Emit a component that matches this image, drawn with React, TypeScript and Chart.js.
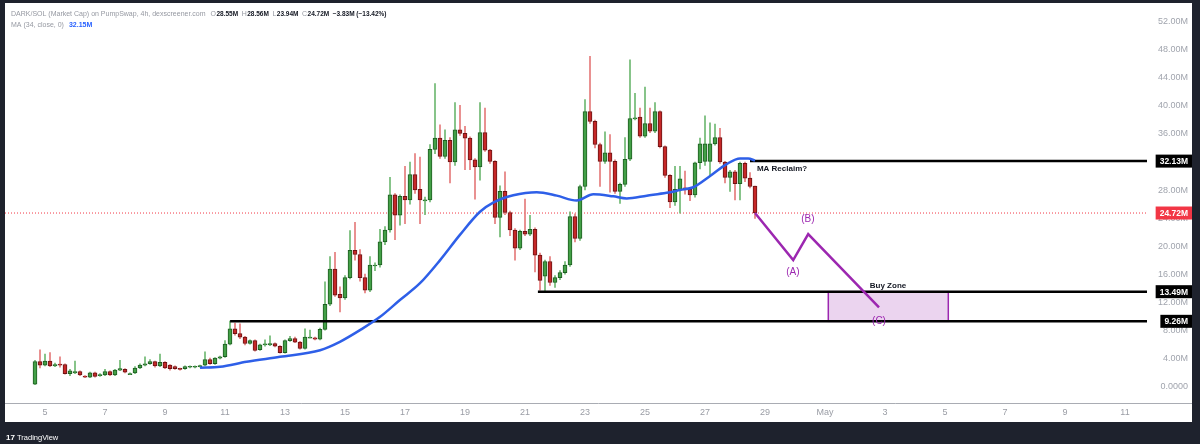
import React, { useEffect, useRef } from "react";
import { Chart, registerables } from "chart.js";

Chart.register(...registerables);

// ---------------- data (values in millions, x in days of April) ----------------
const opens = [
  0.3, 3.5, 3.0, 3.6, 2.9, 3.1, 3.1, 1.8, 1.9, 2.1,
  1.4, 1.3, 1.9, 1.5, 1.6, 2.1, 1.6, 2.3, 2.4, 1.8,
  1.9, 2.6, 3.0, 3.2, 3.5, 2.9, 3.4, 3.0, 2.8, 2.5,
  2.5, 2.7, 2.7, 2.8, 3.0, 3.8, 3.2, 4.0, 4.2, 6.0,
  8.2, 7.5, 7.0, 6.1, 6.5, 5.2, 5.9, 5.9, 6.1, 5.7,
  4.8, 6.5, 6.8, 6.3, 5.4, 7.0, 6.9, 6.7, 8.1, 11.7,
  16.7, 13.1, 12.6, 15.5, 19.4, 18.8, 15.5, 13.7, 17.3, 17.3,
  20.6, 22.3, 27.3, 24.4, 27.1, 26.6, 30.2, 28.1, 26.6, 26.6,
  33.8, 35.4, 32.8, 35.1, 32.0, 36.6, 36.1, 35.4, 32.3, 31.3,
  36.2, 33.7, 32.1, 24.1, 27.8, 24.8, 22.3, 19.7, 22.1, 21.7,
  22.4, 18.7, 15.7, 17.8, 14.8, 15.5, 16.2, 17.3, 24.2, 21.1,
  28.5, 39.2, 37.8, 34.5, 32.1, 33.3, 32.1, 27.8, 28.8, 32.4,
  38.3, 38.4, 35.7, 37.5, 36.4, 39.2, 34.2, 30.1, 26.3, 28.1,
  28.3, 28.1, 27.3, 31.9, 32.1, 32.1, 34.6, 35.5, 32.0, 29.8,
  30.6, 28.9, 31.8, 29.7, 28.55,
];
const closes = [
  3.5, 3.0, 3.6, 2.9, 3.1, 3.0, 1.8, 2.2, 2.1, 1.6,
  1.3, 1.9, 1.4, 1.6, 2.1, 1.6, 2.3, 2.5, 2.0, 1.8,
  2.6, 3.0, 3.2, 3.5, 2.9, 3.4, 2.6, 2.5, 2.5, 2.4,
  2.8, 2.8, 2.8, 2.9, 3.8, 3.2, 4.0, 4.2, 6.0, 8.2,
  7.5, 7.0, 6.1, 6.5, 5.1, 5.9, 6.0, 6.1, 5.7, 4.8,
  6.5, 6.8, 6.3, 5.4, 7.0, 7.0, 6.7, 8.1, 11.7, 16.7,
  13.0, 12.6, 15.5, 19.4, 18.8, 15.5, 13.7, 17.3, 17.3, 20.6,
  22.3, 27.3, 24.4, 27.1, 26.6, 30.2, 28.0, 26.6, 26.6, 33.8,
  35.4, 32.8, 35.1, 32.0, 36.6, 36.1, 35.4, 32.3, 31.3, 36.2,
  33.7, 32.1, 24.1, 27.8, 24.8, 22.3, 19.7, 22.1, 21.7, 22.4,
  18.7, 15.1, 17.8, 14.8, 15.5, 16.2, 17.3, 24.2, 21.1, 28.5,
  39.2, 37.8, 34.5, 32.1, 33.3, 32.1, 27.8, 28.8, 32.4, 38.2,
  38.3, 35.7, 37.5, 36.4, 39.2, 34.2, 30.1, 26.3, 28.1, 29.6,
  28.1, 27.3, 31.9, 34.6, 34.6, 34.6, 35.5, 32.0, 29.8, 30.6,
  28.9, 31.8, 29.7, 28.5, 24.72,
];
const highs = [
  3.7, 5.2, 4.6, 4.8, 3.3, 4.2, 3.2, 2.4, 3.6, 2.2,
  1.5, 2.0, 2.0, 1.8, 2.4, 2.2, 2.4, 3.7, 2.5, 1.9,
  2.8, 3.2, 4.2, 3.8, 3.6, 4.6, 3.5, 3.1, 2.9, 2.6,
  2.9, 2.9, 2.9, 3.0, 4.9, 4.0, 4.1, 4.3, 6.5, 9.3,
  9.0, 8.9, 7.1, 6.6, 6.6, 6.0, 6.6, 7.2, 6.2, 5.8,
  6.6, 7.1, 7.0, 6.4, 8.2, 8.0, 7.0, 8.3, 14.9, 18.5,
  19.1, 14.2, 15.8, 22.2, 23.4, 19.5, 16.0, 18.5, 17.6, 22.4,
  22.8, 29.8, 27.5, 27.3, 31.4, 32.0, 33.2, 32.7, 27.0, 34.5,
  43.2, 37.3, 36.6, 35.5, 40.5, 40.1, 37.1, 35.6, 32.5, 40.5,
  39.7, 33.8, 32.2, 28.6, 30.6, 25.0, 22.5, 22.3, 26.7, 24.4,
  22.6, 19.0, 18.0, 18.5, 15.8, 16.5, 17.8, 24.9, 24.6, 28.7,
  40.9, 47.1, 38.0, 34.7, 36.3, 35.9, 32.3, 29.0, 35.5, 46.6,
  41.8, 39.7, 42.7, 39.7, 40.5, 39.3, 34.3, 30.2, 31.4, 31.4,
  30.7, 28.2, 32.0, 35.4, 38.6, 37.6, 37.4, 36.8, 32.1, 30.8,
  30.8, 32.0, 32.0, 30.5, 28.56,
];
const lows = [
  0.2, 2.6, 2.9, 2.8, 2.8, 2.7, 1.7, 1.5, 1.8, 1.5,
  1.2, 1.2, 1.3, 1.4, 1.5, 1.5, 1.5, 2.2, 1.9, 1.7,
  1.8, 2.5, 2.9, 3.1, 2.7, 2.8, 2.5, 2.3, 2.4, 2.3,
  2.4, 2.6, 2.6, 2.7, 2.9, 3.1, 3.1, 3.9, 4.1, 5.9,
  7.3, 6.8, 5.9, 6.0, 5.0, 5.1, 5.7, 5.8, 5.6, 4.7,
  4.7, 6.4, 6.2, 5.3, 5.3, 6.9, 6.6, 6.6, 8.0, 11.5,
  12.8, 10.6, 12.4, 15.3, 18.0, 15.0, 13.3, 13.5, 16.5, 17.0,
  20.2, 22.0, 20.9, 23.0, 23.2, 26.0, 27.5, 23.2, 24.5, 26.3,
  33.2, 32.5, 32.5, 29.0, 31.5, 35.8, 30.9, 30.9, 26.7, 29.4,
  33.5, 31.8, 23.2, 21.3, 24.5, 21.5, 18.0, 19.5, 21.5, 21.5,
  16.3, 13.7, 13.6, 14.4, 14.1, 15.2, 16.0, 17.1, 20.6, 20.8,
  28.0, 37.5, 34.0, 28.5, 31.8, 27.7, 27.5, 26.1, 28.5, 32.2,
  38.0, 35.5, 35.5, 36.2, 36.2, 34.0, 29.8, 25.5, 25.8, 24.7,
  27.4, 26.5, 27.0, 31.0, 31.5, 30.0, 34.4, 31.8, 29.0, 27.8,
  26.6, 26.6, 29.2, 28.3, 23.94,
];
// 4h candles, first one opens Apr 4 16:00
const firstCandleDay = 4 + 16 / 24;
const candleDays = opens.map((_, i) => firstCandleDay + i / 6);

// MA (34, close)
const maDays = [10.167, 10.833, 11.72, 12.83, 14.17, 14.83, 15.5, 16.17, 16.83, 17.5, 18.17, 18.83, 19.5, 19.94, 20.61, 21.39, 22.06, 22.72, 23.28, 23.94, 24.39, 25.06, 25.72, 26.17, 26.61, 27.17, 27.72, 28.17, 28.44, 28.667];
const maValues = [2.62, 2.76, 3.48, 4.19, 5.14, 6.33, 8.0, 9.9, 12.3, 14.7, 18.0, 21.6, 24.9, 26.2, 27.25, 27.7, 27.2, 26.5, 27.4, 27.1, 26.8, 27.2, 27.6, 28.0, 28.4, 30.0, 31.7, 32.5, 32.5, 32.2];

// projected ABC path
const projDays = [28.667, 29.94, 30.44, 32.8];
const projValues = [24.72, 18.0, 21.7, 11.24];

// horizontal levels
const levelValues = [32.13, 13.49, 9.26];
const levelStartDays = [28.5, 21.43, 11.17];
const lastPrice = 24.72;

// buy zone box
const zoneDays = [31.11, 35.11];
const zoneValues = [9.26, 13.49];

// axis ticks
const xTickDays = [5, 7, 9, 11, 13, 15, 17, 19, 21, 23, 25, 27, 29, 31, 33, 35, 37, 39, 41];
const xTickLabels = ["5", "7", "9", "11", "13", "15", "17", "19", "21", "23", "25", "27", "29", "May", "3", "5", "7", "9", "11"];
const yTickValues = [0, 4, 8, 12, 16, 20, 24, 28, 32, 36, 40, 44, 48, 52];
const yTickLabels = ["0.0000", "4.00M", "8.00M", "12.00M", "16.00M", "20.00M", "24.00M", "28.00M", "32.00M", "36.00M", "40.00M", "44.00M", "48.00M", "52.00M"];

// price tags on the right axis
const tagValues = [32.13, 24.72, 13.49, 9.26];
const tagLabels = ["32.13M", "24.72M", "13.49M", "9.26M"];
const tagColors = ["#000000", "#f23645", "#000000", "#000000"];

const notes = [
  { text: "MA Reclaim?", day: 28.73, value: 31.1, color: "#131722", bold: true, size: 8, align: "left" },
  { text: "(A)", day: 29.93, value: 16.2, color: "#9c27b0", bold: false, size: 10, align: "center" },
  { text: "(B)", day: 30.43, value: 23.8, color: "#9c27b0", bold: false, size: 10, align: "center" },
  { text: "(C)", day: 32.8, value: 9.33, color: "#9c27b0", bold: false, size: 10, align: "center" },
  { text: "Buy Zone", day: 33.1, value: 14.4, color: "#131722", bold: true, size: 8, align: "center" },
];

const X_MIN = 3.6667;
const X_MAX = 41.7333;
const Y_MIN = -2.4;
const Y_MAX = 54.7;

const FONT = '"Liberation Sans", Arial, sans-serif';
const UP = "#43a047";
const UP_B = "#1e5e22";
const DN = "#c62828";
const DN_B = "#6b1414";

const overlayPlugin = {
  id: "overlay",
  beforeDraw(chart: any) {
    const { ctx, width, height } = chart;
    ctx.save();
    ctx.fillStyle = "#1e222d";
    ctx.fillRect(0, 0, width, height);
    ctx.fillStyle = "#ffffff";
    ctx.fillRect(5, 3, 1187, 419);
    ctx.restore();
  },
  beforeDatasetsDraw(chart: any) {
    const { ctx } = chart;
    const x = chart.scales.x;
    const y = chart.scales.y;
    const x0 = x.getPixelForValue(zoneDays[0]);
    const x1 = x.getPixelForValue(zoneDays[1]);
    const y0 = y.getPixelForValue(zoneValues[1]);
    const y1 = y.getPixelForValue(zoneValues[0]);
    ctx.save();
    ctx.fillStyle = "rgba(156,39,176,0.2)";
    ctx.fillRect(x0, y0, x1 - x0, y1 - y0);
    ctx.strokeStyle = "#9c27b0";
    ctx.lineWidth = 1.5;
    ctx.strokeRect(x0, y0, x1 - x0, y1 - y0);
    ctx.restore();
  },
  afterDraw(chart: any) {
    const { ctx, chartArea } = chart;
    const x = chart.scales.x;
    const y = chart.scales.y;
    ctx.save();
    // x axis line
    ctx.strokeStyle = "#a9acb3";
    ctx.lineWidth = 1;
    ctx.beginPath();
    ctx.moveTo(5, Math.round(chartArea.bottom) + 0.5);
    ctx.lineTo(1192, Math.round(chartArea.bottom) + 0.5);
    ctx.stroke();

    // price axis labels
    ctx.font = `9px ${FONT}`;
    ctx.fillStyle = "#a0a4ad";
    ctx.textAlign = "right";
    ctx.textBaseline = "middle";
    yTickValues.forEach((v, i) => {
      ctx.fillText(yTickLabels[i], 1188, y.getPixelForValue(v));
    });

    // annotations
    notes.forEach((n) => {
      ctx.font = `${n.bold ? "bold " : ""}${n.size}px ${FONT}`;
      ctx.fillStyle = n.color;
      ctx.textAlign = n.align;
      ctx.textBaseline = "middle";
      ctx.fillText(n.text, x.getPixelForValue(n.day), y.getPixelForValue(n.value));
    });

    // price tags
    ctx.font = `bold 8.5px ${FONT}`;
    ctx.textBaseline = "middle";
    ctx.textAlign = "center";
    tagValues.forEach((v, i) => {
      const py = y.getPixelForValue(v);
      const tw = ctx.measureText(tagLabels[i]).width;
      const w = tw + 8;
      const right = 1192;
      ctx.fillStyle = tagColors[i];
      ctx.fillRect(right - w, py - 6.5, w, 13);
      ctx.fillStyle = "#ffffff";
      ctx.fillText(tagLabels[i], right - w / 2, py + 0.5);
    });

    // legend (top-left)
    const gray = "#9598a1";
    const dark = "#131722";
    let cx = 11;
    const seg = (s: string, color: string, bold: boolean, yy: number, gap = 0, size = 7) => {
      ctx.font = `${bold ? "bold " : ""}${size}px ${FONT}`;
      ctx.fillStyle = color;
      ctx.textAlign = "left";
      ctx.textBaseline = "middle";
      ctx.fillText(s, cx, yy);
      cx += ctx.measureText(s).width + gap;
    };
    seg("DARK/SOL (Market Cap) on PumpSwap, 4h, dexscreener.com", gray, false, 14, 5);
    seg("O", gray, false, 14, 0.5);
    seg("28.55M", dark, true, 14, 3.5, 6.5);
    seg("H", gray, false, 14, 0.5);
    seg("28.56M", dark, true, 14, 3.5, 6.5);
    seg("L", gray, false, 14, 0.5);
    seg("23.94M", dark, true, 14, 3.5, 6.5);
    seg("C", gray, false, 14, 0.5);
    seg("24.72M", dark, true, 14, 3.5, 6.5);
    seg("\u22123.83M (\u221213.42%)", dark, true, 14, 0, 6.5);
    cx = 11;
    seg("MA (34, close, 0)", gray, false, 25, 5);
    seg("32.15M", "#2962ff", true, 25, 0);

    // footer logo
    ctx.fillStyle = "#ffffff";
    ctx.font = `bold 8px ${FONT}`;
    ctx.textAlign = "left";
    ctx.textBaseline = "middle";
    ctx.fillText("17", 6, 438);
    ctx.font = `7.5px ${FONT}`;
    ctx.fillText("TradingView", 17, 438);
    ctx.restore();
  },
};

export default function App() {
  const ref = useRef<HTMLCanvasElement>(null);
  useEffect(() => {
    document.body.style.margin = "0";
    const canvas = ref.current;
    if (!canvas) return;
    const up = (i: number) => closes[i] >= opens[i];
    const chart = new Chart(canvas, {
      type: "bar",
      data: {
        datasets: [
          {
            type: "line",
            label: "MA",
            data: maDays.map((d, i) => ({ x: d, y: maValues[i] })),
            borderColor: "#2e5fe8",
            borderWidth: 2.5,
            pointRadius: 0,
            cubicInterpolationMode: "monotone",
            order: 0,
          } as any,
          {
            type: "line",
            label: "ABC",
            data: projDays.map((d, i) => ({ x: d, y: projValues[i] })),
            borderColor: "#9c27b0",
            borderWidth: 2.5,
            pointRadius: 0,
            borderJoinStyle: "miter",
            order: 0,
          } as any,
          ...levelValues.map((v, i) => ({
            type: "line",
            label: "level" + i,
            data: [
              { x: levelStartDays[i], y: v },
              { x: X_MAX, y: v },
            ],
            borderColor: "#000000",
            borderWidth: 2.5,
            pointRadius: 0,
            order: 1,
          })) as any,
          {
            type: "bar",
            label: "bodies",
            data: candleDays.map((d, i) => ({ x: d, y: [opens[i], closes[i]] })),
            backgroundColor: (c: any) => (up(c.dataIndex) ? UP : DN),
            borderColor: (c: any) => (up(c.dataIndex) ? UP_B : DN_B),
            borderWidth: 1,
            borderSkipped: false,
            barThickness: 4,
            minBarLength: 1,
            grouped: false,
            order: 2,
          } as any,
          {
            type: "bar",
            label: "wicks",
            data: candleDays.map((d, i) => ({ x: d, y: [lows[i], highs[i]] })),
            backgroundColor: (c: any) => (up(c.dataIndex) ? "#6fb872" : "#e57b7b"),
            borderWidth: 0,
            barThickness: 1,
            grouped: false,
            order: 3,
          } as any,
          {
            type: "line",
            label: "last",
            data: [
              { x: X_MIN, y: lastPrice },
              { x: X_MAX, y: lastPrice },
            ],
            borderColor: "#f23645",
            borderWidth: 1,
            borderDash: [1, 2],
            pointRadius: 0,
            order: 4,
          } as any,
        ],
      },
      options: {
        animation: false,
        responsive: false,
        devicePixelRatio: 1,
        layout: { padding: { left: 5, top: 3, right: 8, bottom: 22 } },
        plugins: { legend: { display: false }, tooltip: { enabled: false } },
        scales: {
          x: {
            type: "linear",
            min: X_MIN,
            max: X_MAX,
            offset: false,
            grid: { display: false, drawTicks: false, offset: false },
            border: { display: false },
            ticks: {
              color: "#9a9da5",
              font: { family: FONT, size: 9 },
              padding: 4,
              maxRotation: 0,
              autoSkip: false,
              callback: (_v: any, i: number) => xTickLabels[i] ?? "",
            },
            afterBuildTicks: (axis: any) => {
              axis.ticks = xTickDays.map((v) => ({ value: v }));
            },
            afterFit: (s: any) => {
              s.height = 19;
            },
          },
          y: {
            position: "right",
            min: Y_MIN,
            max: Y_MAX,
            grid: { display: false, drawTicks: false },
            border: { display: false },
            ticks: { display: false },
            afterBuildTicks: (axis: any) => {
              axis.ticks = yTickValues.map((v) => ({ value: v }));
            },
            afterFit: (s: any) => {
              s.width = 45;
            },
          },
        },
      } as any,
      plugins: [overlayPlugin],
    });
    return () => chart.destroy();
  }, []);
  return (
    <div style={{ width: 1200, height: 444 }}>
      <canvas ref={ref} width={1200} height={444} style={{ display: "block" }} />
    </div>
  );
}
